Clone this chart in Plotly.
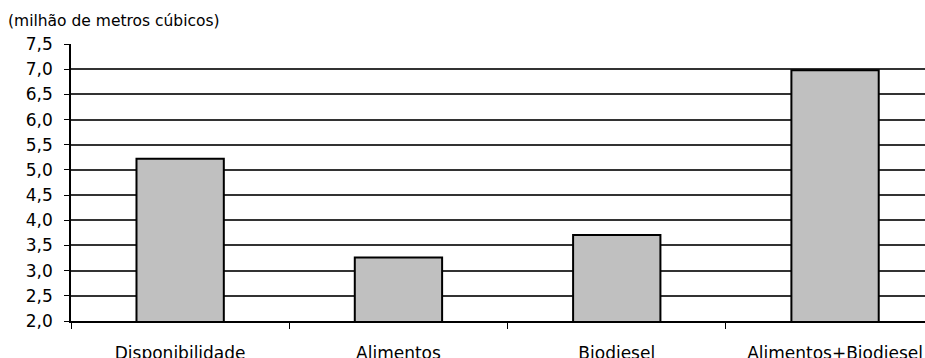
import plotly.graph_objects as go

categories = ["Disponibilidade", "Alimentos", "Biodiesel", "Alimentos+Biodiesel"]
values = [5.22, 3.26, 3.71, 6.98]
y_ticks = [2.0, 2.5, 3.0, 3.5, 4.0, 4.5, 5.0, 5.5, 6.0, 6.5, 7.0, 7.5]
grid_vals = [2.5, 3.0, 3.5, 4.0, 4.5, 5.0, 5.5, 6.0, 6.5, 7.0]
unit_label = "(milhão de metros cúbicos)"

FONT = "DejaVu Sans"

fig = go.Figure()
fig.add_trace(go.Bar(
    x=categories, y=values, width=0.4,
    marker=dict(color="#c0c0c0", line=dict(color="#000000", width=2)),
    yaxis="y", hoverinfo="skip",
))
# invisible trace to activate grid axis
fig.add_trace(go.Scatter(x=categories, y=values, yaxis="y2", mode="markers",
                         marker=dict(opacity=0), showlegend=False, hoverinfo="skip"))

fig.update_layout(
    template="none",
    width=925, height=358,
    margin=dict(l=71, r=0, t=44, b=37, autoexpand=False),
    paper_bgcolor="white", plot_bgcolor="white",
    separators=",.",
    showlegend=False,
    font=dict(family=FONT, color="#000000"),
    title=dict(text=unit_label, x=8/925, xanchor="left", xref="container",
               y=1-21/358, yanchor="middle", yref="container",
               font=dict(family=FONT, size=15.5, color="#000000")),
    xaxis=dict(
        type="category", range=[-0.5, 3.412], fixedrange=True, automargin=False,
        showline=True, linecolor="#000000", linewidth=1.5,
        ticks="outside", tickson="boundaries", ticklen=6, tickcolor="#000000", tickwidth=1.2,
        showgrid=False, tickfont=dict(size=17, family=FONT),
        ticklabelstandoff=16,
    ),
    yaxis=dict(
        range=[2.0, 7.5], tickvals=y_ticks, tickformat=".1f", automargin=False,
        showline=True, linecolor="#000000", linewidth=1.5, fixedrange=True,
        ticks="outside", ticklen=5, tickcolor="#000000", tickwidth=1.2,
        showgrid=False, zeroline=False, tickfont=dict(size=17, family=FONT),
        ticklabelstandoff=8,
    ),
    yaxis2=dict(
        range=[2.0, 7.5], overlaying="y", tickvals=grid_vals, automargin=False,
        showgrid=True, gridcolor="#333333", gridwidth=1.5, fixedrange=True,
        showticklabels=False, showline=False, zeroline=False, ticks="",
    ),
)

fig.write_html("out.html", config={"displayModeBar": False},
               post_script="document.body.style.margin='0';document.body.style.overflow='hidden';")
